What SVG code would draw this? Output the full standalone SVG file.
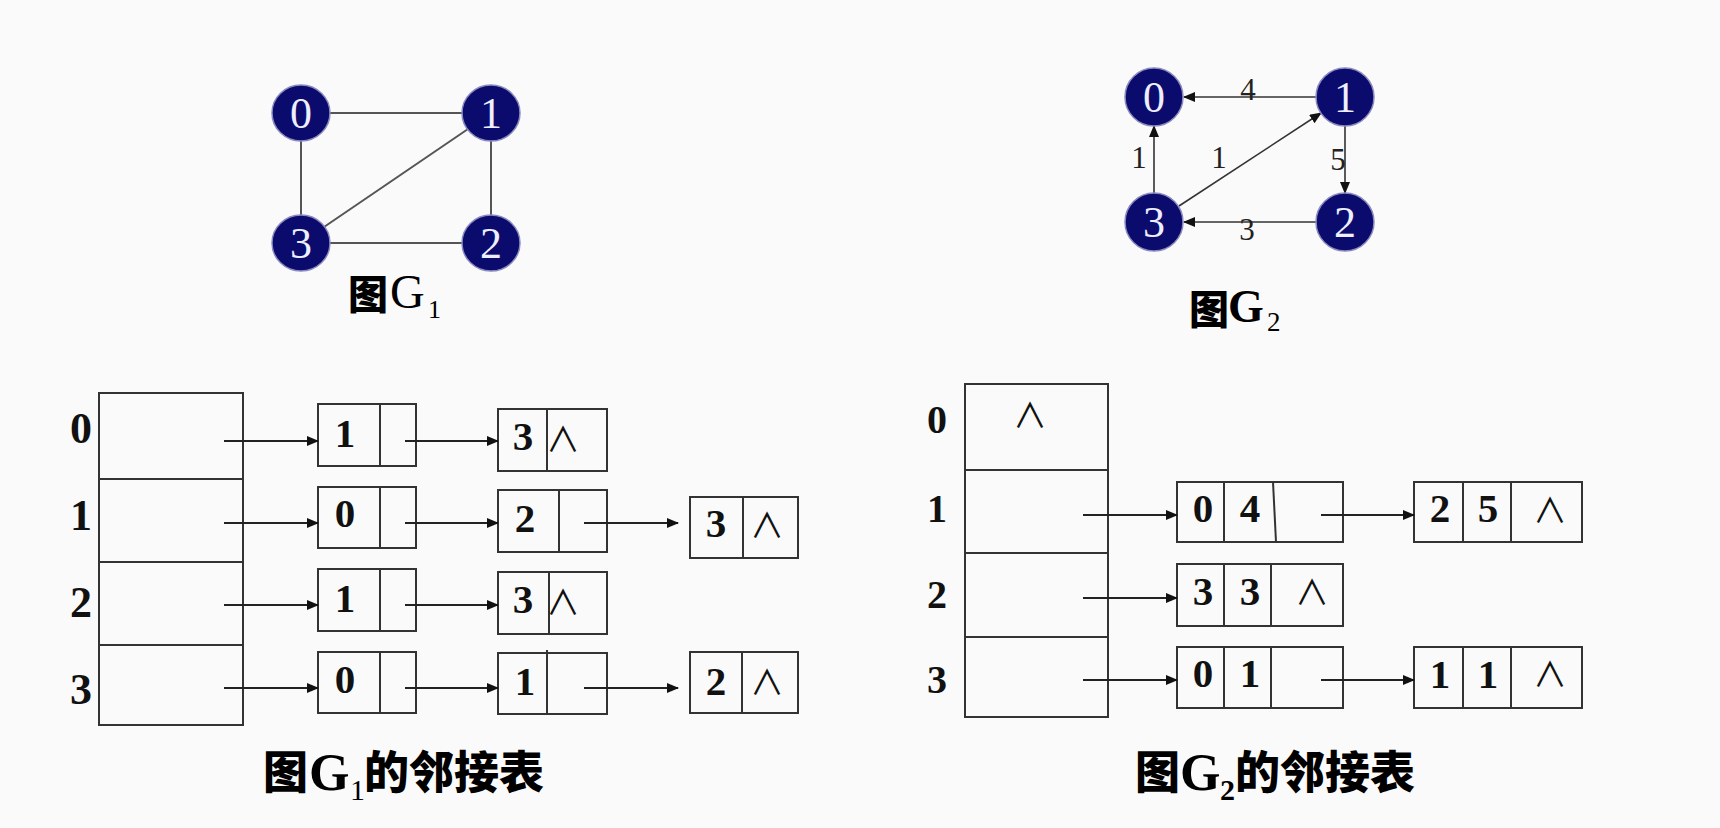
<svg xmlns="http://www.w3.org/2000/svg" width="1720" height="828" viewBox="0 0 1720 828">
<style>
.bg{fill:#fafafa}
.gn{fill:#0b0b6e;stroke:#8a8ac0;stroke-width:1.5}
.gt{font-family:"Liberation Serif","Times New Roman",serif;font-size:44px;fill:#eeeeff;text-anchor:middle}
.ue{stroke:#555;stroke-width:2;fill:none}
.de{stroke:#333;stroke-width:1.6;fill:none}
.el{font-family:"Liberation Serif","Times New Roman",serif;font-size:31px;fill:#222;text-anchor:middle}
.box{fill:none;stroke:#333;stroke-width:2}
.arr{stroke:#222;stroke-width:1.8;fill:none}
.d{font-family:"Liberation Serif","Times New Roman",serif;font-weight:bold;font-size:41px;fill:#111;text-anchor:middle}
.rl1{font-family:"Liberation Serif","Times New Roman",serif;font-weight:bold;font-size:44px;fill:#111;text-anchor:middle}
.rl2{font-family:"Liberation Serif","Times New Roman",serif;font-weight:bold;font-size:40px;fill:#111;text-anchor:middle}
.nil{font-family:"Noto Sans CJK SC","DejaVu Sans",sans-serif;font-weight:normal;font-size:34px;fill:#111;text-anchor:middle}
.cjk{font-family:"Noto Sans CJK SC","Noto Sans CJK JP",sans-serif;font-weight:900;fill:#000}
.ser{font-family:"Liberation Serif","Times New Roman",serif;fill:#000}
</style>
<defs>
<marker id="ah" markerUnits="userSpaceOnUse" markerWidth="12" markerHeight="10" refX="11" refY="5" orient="auto">
<path d="M0,0 L12,5 L0,10 z" fill="#111"/>
</marker>
</defs>
<rect class="bg" x="0" y="0" width="1720" height="828"/>

<!-- Graph G1 -->
<g id="g1-edges">
<line class="ue" x1="330" y1="113" x2="462" y2="113"/>
<line class="ue" x1="301" y1="141" x2="301" y2="215"/>
<line class="ue" x1="491" y1="141" x2="491" y2="215"/>
<line class="ue" x1="330" y1="243" x2="462" y2="243"/>
<line class="ue" x1="324" y1="227" x2="468" y2="129"/>
</g>
<g id="g1-n0"><ellipse class="gn" cx="301" cy="113" rx="29" ry="28"/><text class="gt" x="301" y="128">0</text></g>
<g id="g1-n1"><ellipse class="gn" cx="491" cy="113" rx="29" ry="28"/><text class="gt" x="491" y="128">1</text></g>
<g id="g1-n2"><ellipse class="gn" cx="491" cy="243" rx="29" ry="28"/><text class="gt" x="491" y="258">2</text></g>
<g id="g1-n3"><ellipse class="gn" cx="301" cy="243" rx="29" ry="28"/><text class="gt" x="301" y="258">3</text></g>
<g id="g1-title">
<text class="cjk" x="348" y="309" font-size="40">图</text>
<text class="ser" x="390" y="308" font-size="48">G</text>
<text class="ser" x="428" y="318" font-size="26">1</text>
</g>

<!-- Graph G2 -->
<g id="g2-edges">
<line class="de" x1="1316" y1="97" x2="1184" y2="97" marker-end="url(#ah)"/>
<line class="de" x1="1154" y1="193" x2="1154" y2="126" marker-end="url(#ah)"/>
<line class="de" x1="1345" y1="126" x2="1345" y2="193" marker-end="url(#ah)"/>
<line class="de" x1="1316" y1="222" x2="1184" y2="222" marker-end="url(#ah)"/>
<line class="de" x1="1179" y1="206" x2="1321" y2="113" marker-end="url(#ah)"/>
<text class="el" x="1248" y="100">4</text>
<text class="el" x="1338" y="170">5</text>
<text class="el" x="1139" y="168">1</text>
<text class="el" x="1219" y="168">1</text>
<text class="el" x="1247" y="240">3</text>
</g>
<g id="g2-n0"><circle class="gn" cx="1154" cy="97" r="29"/><text class="gt" x="1154" y="112">0</text></g>
<g id="g2-n1"><circle class="gn" cx="1345" cy="97" r="29"/><text class="gt" x="1345" y="112">1</text></g>
<g id="g2-n2"><circle class="gn" cx="1345" cy="222" r="29"/><text class="gt" x="1345" y="237">2</text></g>
<g id="g2-n3"><circle class="gn" cx="1154" cy="222" r="29"/><text class="gt" x="1154" y="237">3</text></g>
<g id="g2-title">
<text class="cjk" x="1189" y="324" font-size="40">图</text>
<text class="ser" x="1228" y="322" font-size="46" font-weight="bold">G</text>
<text class="ser" x="1267" y="331" font-size="27">2</text>
</g>

<!-- G1 adjacency list -->
<g id="g1-head">
<rect class="box" x="99" y="393" width="144" height="332"/>
<line class="box" x1="99" y1="479" x2="243" y2="479"/>
<line class="box" x1="99" y1="562" x2="243" y2="562"/>
<line class="box" x1="99" y1="645" x2="243" y2="645"/>
<text class="rl1" x="81" y="443">0</text>
<text class="rl1" x="81" y="530">1</text>
<text class="rl1" x="81" y="617">2</text>
<text class="rl1" x="81" y="704">3</text>
</g>
<g id="g1-r0a"><rect class="box" x="318" y="404" width="98" height="62"/><line class="box" x1="380" y1="404" x2="380" y2="466"/><text class="d" x="345" y="447">1</text></g>
<g id="g1-r0b"><rect class="box" x="498" y="409" width="109" height="62"/><line class="box" x1="547" y1="409" x2="547" y2="471"/><text class="d" x="523" y="450">3</text><text class="nil" x="563" y="452">∧</text></g>
<g id="g1-r1a"><rect class="box" x="318" y="487" width="98" height="61"/><line class="box" x1="380" y1="487" x2="380" y2="548"/><text class="d" x="345" y="527">0</text></g>
<g id="g1-r1b"><rect class="box" x="498" y="490" width="109" height="62"/><line class="box" x1="559" y1="490" x2="559" y2="552"/><text class="d" x="525" y="532">2</text></g>
<g id="g1-r1c"><rect class="box" x="690" y="497" width="108" height="61"/><line class="box" x1="743" y1="497" x2="743" y2="558"/><text class="d" x="716" y="537">3</text><text class="nil" x="767" y="538">∧</text></g>
<g id="g1-r2a"><rect class="box" x="318" y="569" width="98" height="62"/><line class="box" x1="380" y1="569" x2="380" y2="631"/><text class="d" x="345" y="612">1</text></g>
<g id="g1-r2b"><rect class="box" x="498" y="572" width="109" height="62"/><line class="box" x1="549" y1="572" x2="549" y2="634"/><text class="d" x="523" y="613">3</text><text class="nil" x="563" y="615">∧</text></g>
<g id="g1-r3a"><rect class="box" x="318" y="652" width="98" height="61"/><line class="box" x1="380" y1="652" x2="380" y2="713"/><text class="d" x="345" y="693">0</text></g>
<g id="g1-r3b"><rect class="box" x="498" y="653" width="109" height="61"/><line class="box" x1="547" y1="650" x2="547" y2="714"/><text class="d" x="525" y="695">1</text></g>
<g id="g1-r3c"><rect class="box" x="690" y="652" width="108" height="61"/><line class="box" x1="742" y1="652" x2="742" y2="713"/><text class="d" x="716" y="695">2</text><text class="nil" x="767" y="695">∧</text></g>

<!-- G2 adjacency list -->
<g id="g2-head">
<rect class="box" x="965" y="384" width="143" height="333"/>
<line class="box" x1="965" y1="470" x2="1108" y2="470"/>
<line class="box" x1="965" y1="553" x2="1108" y2="553"/>
<line class="box" x1="965" y1="637" x2="1108" y2="637"/>
<text class="nil" x="1030" y="428">∧</text>
<text class="rl2" x="937" y="433">0</text>
<text class="rl2" x="937" y="522">1</text>
<text class="rl2" x="937" y="608">2</text>
<text class="rl2" x="937" y="693">3</text>
</g>
<g id="g2-r1a"><rect class="box" x="1177" y="482" width="166" height="60"/><line class="box" x1="1224" y1="482" x2="1224" y2="542"/><line class="box" x1="1273" y1="482" x2="1276" y2="542"/><text class="d" x="1203" y="522">0</text><text class="d" x="1250" y="522">4</text></g>
<g id="g2-r1b"><rect class="box" x="1414" y="482" width="168" height="60"/><line class="box" x1="1463" y1="482" x2="1463" y2="542"/><line class="box" x1="1511" y1="482" x2="1511" y2="542"/><text class="d" x="1440" y="522">2</text><text class="d" x="1488" y="522">5</text><text class="nil" x="1550" y="523">∧</text></g>
<g id="g2-r2a"><rect class="box" x="1177" y="564" width="166" height="62"/><line class="box" x1="1224" y1="564" x2="1224" y2="626"/><line class="box" x1="1271" y1="564" x2="1271" y2="626"/><text class="d" x="1203" y="605">3</text><text class="d" x="1250" y="605">3</text><text class="nil" x="1312" y="605">∧</text></g>
<g id="g2-r3a"><rect class="box" x="1177" y="647" width="166" height="61"/><line class="box" x1="1224" y1="647" x2="1224" y2="708"/><line class="box" x1="1271" y1="647" x2="1271" y2="708"/><text class="d" x="1203" y="687">0</text><text class="d" x="1250" y="687">1</text></g>
<g id="g2-r3b"><rect class="box" x="1414" y="647" width="168" height="61"/><line class="box" x1="1463" y1="647" x2="1463" y2="708"/><line class="box" x1="1511" y1="647" x2="1511" y2="708"/><text class="d" x="1440" y="688">1</text><text class="d" x="1488" y="688">1</text><text class="nil" x="1550" y="687">∧</text></g>

<!-- connectors of the lists -->
<g id="list-arrows">
<line class="arr" x1="224" y1="441" x2="318" y2="441" marker-end="url(#ah)"/>
<line class="arr" x1="224" y1="523" x2="318" y2="523" marker-end="url(#ah)"/>
<line class="arr" x1="224" y1="605" x2="318" y2="605" marker-end="url(#ah)"/>
<line class="arr" x1="224" y1="688" x2="318" y2="688" marker-end="url(#ah)"/>
<line class="arr" x1="405" y1="441" x2="498" y2="441" marker-end="url(#ah)"/>
<line class="arr" x1="405" y1="523" x2="498" y2="523" marker-end="url(#ah)"/>
<line class="arr" x1="405" y1="605" x2="498" y2="605" marker-end="url(#ah)"/>
<line class="arr" x1="405" y1="688" x2="498" y2="688" marker-end="url(#ah)"/>
<line class="arr" x1="584" y1="523" x2="678" y2="523" marker-end="url(#ah)"/>
<line class="arr" x1="584" y1="688" x2="678" y2="688" marker-end="url(#ah)"/>
<line class="arr" x1="1083" y1="515" x2="1177" y2="515" marker-end="url(#ah)"/>
<line class="arr" x1="1083" y1="598" x2="1177" y2="598" marker-end="url(#ah)"/>
<line class="arr" x1="1083" y1="680" x2="1177" y2="680" marker-end="url(#ah)"/>
<line class="arr" x1="1321" y1="515" x2="1414" y2="515" marker-end="url(#ah)"/>
<line class="arr" x1="1321" y1="680" x2="1414" y2="680" marker-end="url(#ah)"/>
</g>

<!-- captions -->
<g id="cap1">
<text class="cjk" x="263" y="789" font-size="45">图</text>
<text class="ser" x="309" y="790" font-size="52" font-weight="bold">G</text>
<text class="ser" x="350" y="800" font-size="30">1</text>
<text class="cjk" x="364" y="789" font-size="45">的邻接表</text>
</g>
<g id="cap2">
<text class="cjk" x="1135" y="789" font-size="45">图</text>
<text class="ser" x="1180" y="790" font-size="52" font-weight="bold">G</text>
<text class="ser" x="1220" y="800" font-size="30" font-weight="bold">2</text>
<text class="cjk" x="1235" y="789" font-size="45">的邻接表</text>
</g>
</svg>
